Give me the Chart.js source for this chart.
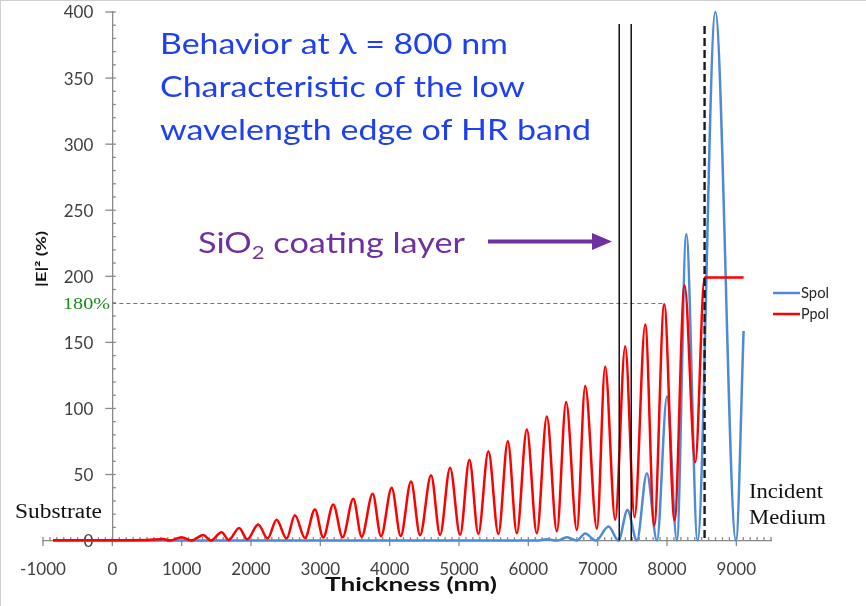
<!DOCTYPE html>
<html>
<head>
<meta charset="utf-8">
<script src="https://cdn.jsdelivr.net/npm/chart.js@4.4.1/dist/chart.umd.min.js"></script>
<style>
  html, body { margin: 0; padding: 0; background: #fff; }
  #wrap { width: 866px; height: 606px; position: relative; }
</style>
</head>
<body>
<div id="wrap"><canvas id="chart"></canvas></div>
<script>
// axis ticks
const thicknessTicks = [-1000, 0, 1000, 2000, 3000, 4000, 5000, 6000, 7000, 8000, 9000];
const fieldTicks = [0, 50, 100, 150, 200, 250, 300, 350, 400];

// Spol (blue): thickness (nm) -> |E|^2 (%)
const spolX = [-856, 6120, 6267, 6420, 6556, 6700, 6820, 6974, 7157, 7300, 7430, 7566,
  7710, 7855, 8000, 8143, 8278, 8441, 8697, 8995, 9105];
const spolY = [0, 0, 1, 0, 2.5, 0, 5.3, 0, 10.6, 0, 23.2, 0,
  51, 0, 109, 0, 232, 0, 400, 0, 158.6];

// Ppol (red)
const ppolX = [-856, 0, 500, 730, 830, 1000, 1140,
  1310, 1421, 1575, 1680, 1829, 1945, 2104, 2239, 2369, 2513,
  2633, 2778, 2922, 3042, 3186, 3322, 3475, 3596, 3755, 3875,
  4029, 4159, 4308, 4438, 4597, 4727, 4871, 5016, 5150, 5279,
  5424, 5568, 5704, 5834, 5978, 6122, 6267, 6411, 6545, 6700,
  6820, 6989, 7108, 7253, 7397, 7532, 7686, 7816, 7960, 8109,
  8253, 8408, 8542, 9105];
const ppolY = [0.3, 0.3, 0.5, 1.3, 0, 2.5, 0,
  4.3, 0, 6.3, 0.5, 9.6, 1, 12.1, 1.5, 15.7, 1.5,
  19.2, 2, 23.5, 2.3, 27.3, 2.5, 31.6, 3, 35.4, 3.3,
  39.9, 3.5, 44.7, 4, 49.5, 4.3, 55.1, 4.3, 61.1, 5,
  67.7, 5, 75.2, 5.5, 84.1, 5.5, 93.9, 7, 104.8, 8,
  116.9, 9, 131.8, 15.7, 147, 17.7, 163.6, 11.4, 178.8, 15.2,
  193.2, 59.3, 199, 199];

// layer boundaries and the 180% level
const sio2Bounds = [7311, 7484];
const mediumBound = 8542;
const level180 = 180;
const level180End = 7960;

const AXIS = '#8a8a8a';
const TICK_TEXT = '#404040';
const TICK_FONT = '17px Lato';

const toPoints = (xs, ys) => xs.map((x, i) => ({ x, y: ys[i] }));

const line = (ctx, x1, y1, x2, y2) => {
  ctx.beginPath();
  ctx.moveTo(x1, y1);
  ctx.lineTo(x2, y2);
  ctx.stroke();
};

// draws text segments stretched to a given width (left edge x, baseline y)
const fitText = (ctx, segs, x, y, color, width) => {
  ctx.save();
  ctx.fillStyle = color;
  ctx.textBaseline = 'alphabetic';
  ctx.textAlign = 'left';
  let total = 0;
  segs.forEach((s) => { ctx.font = s.font; total += ctx.measureText(s.text).width; });
  ctx.translate(x, y);
  ctx.scale(width / total, 1);
  let cx = 0;
  segs.forEach((s) => {
    ctx.font = s.font;
    ctx.fillText(s.text, cx, s.dy || 0);
    cx += ctx.measureText(s.text).width;
  });
  ctx.restore();
};

const decorations = {
  id: 'decorations',
  beforeDatasetsDraw(chart) {
    const { ctx, scales: { x, y } } = chart;
    const x0 = x.getPixelForValue(0);
    const y0 = y.getPixelForValue(0);
    ctx.save();
    ctx.strokeStyle = AXIS;
    ctx.lineWidth = 1.3;
    // x ticks: majors cross the axis, minors point up
    for (let v = -1000; v <= 9500; v += 100) {
      const px = x.getPixelForValue(v);
      if (v % 1000 === 0) line(ctx, px, y0 - 3.5, px, y0 + 5.5);
      else line(ctx, px, y0 - 3.5, px, y0);
    }
    // y ticks: majors cross, minors point right
    for (let v = 0; v <= 400; v += 10) {
      const py = y.getPixelForValue(v);
      if (v % 50 === 0) line(ctx, x0 - 7, py, x0 + 3.5, py);
      else line(ctx, x0, py, x0 + 3.5, py);
    }
    // y tick labels, to the left of the axis at x = 0
    ctx.fillStyle = TICK_TEXT;
    ctx.font = TICK_FONT;
    ctx.textAlign = 'right';
    ctx.textBaseline = 'middle';
    fieldTicks.forEach((v) => ctx.fillText(String(v), x0 - 19, y.getPixelForValue(v) + 1));
    ctx.restore();
  },
  afterDatasetsDraw(chart) {
    const { ctx, scales: { x, y } } = chart;
    ctx.save();

    // 180% dashed level
    ctx.strokeStyle = '#239a9a';
    ctx.lineWidth = 1.1;
    ctx.setLineDash([4, 3]);
    const py180 = Math.round(y.getPixelForValue(level180)) + 0.5;
    line(ctx, x.getPixelForValue(0), py180, x.getPixelForValue(level180End), py180);

    // SiO2 layer boundaries
    ctx.setLineDash([]);
    ctx.strokeStyle = '#111';
    ctx.lineWidth = 1.5;
    sio2Bounds.forEach((v) => {
      const px = x.getPixelForValue(v);
      line(ctx, px, 24, px, y.getPixelForValue(0));
    });
    // incident medium boundary
    ctx.strokeStyle = '#1a1a1a';
    ctx.lineWidth = 2.4;
    ctx.setLineDash([8, 4]);
    const pm = x.getPixelForValue(mediumBound);
    line(ctx, pm, 26, pm, y.getPixelForValue(0));
    ctx.setLineDash([]);

    // purple arrow
    ctx.strokeStyle = '#7030a0';
    ctx.fillStyle = '#7030a0';
    ctx.lineWidth = 4;
    line(ctx, 488, 241.5, 596, 241.5);
    ctx.beginPath();
    ctx.moveTo(612, 241.5);
    ctx.lineTo(592, 233);
    ctx.lineTo(592, 250);
    ctx.closePath();
    ctx.fill();
    ctx.restore();
  },
  afterDraw(chart) {
    const { ctx } = chart;
    const blue = '#1f3ff2';
    fitText(ctx, [{ text: 'Behavior at \u03bb = 800 nm', font: '28px Lato' }], 160, 54, blue, 348);
    fitText(ctx, [{ text: 'Characteristic of the low', font: '28px Lato' }], 160, 97, blue, 365);
    fitText(ctx, [{ text: 'wavelength edge of HR band', font: '28px Lato' }], 160, 140, blue, 431);
    fitText(ctx, [
      { text: 'SiO', font: '28px Lato' },
      { text: '2', font: '18px Lato', dy: 6 },
      { text: ' coating layer', font: '28px Lato' },
    ], 198, 253, '#7030a0', 267);

    fitText(ctx, [{ text: '180%', font: '17px "Liberation Serif"' }], 63, 309, '#1a8a1a', 47);
    fitText(ctx, [{ text: 'Substrate', font: '20px "Liberation Serif"' }], 15, 518, '#111', 87);
    fitText(ctx, [{ text: 'Incident', font: '20px "Liberation Serif"' }], 749, 498, '#111', 74);
    fitText(ctx, [{ text: 'Medium', font: '20px "Liberation Serif"' }], 749, 524, '#111', 77);

    fitText(ctx, [{ text: 'Thickness (nm)', font: 'bold 18px Lato' }], 325, 591, '#111', 172);

    // y title, rotated
    ctx.save();
    ctx.translate(46, 287);
    ctx.rotate(-Math.PI / 2);
    fitText(ctx, [{ text: '|E|\u00b2 (%)', font: 'bold 14px Lato' }], 0, 0, '#111', 56);
    ctx.restore();

    // legend
    const rows = [293, 314];
    chart.data.datasets.forEach((ds, i) => {
      ctx.save();
      ctx.strokeStyle = ds.borderColor;
      ctx.lineWidth = 2.5;
      line(ctx, 773, rows[i], 800, rows[i]);
      ctx.restore();
      fitText(ctx, [{ text: ds.label, font: '15px Lato' }], 801, rows[i] + 5, '#262626', 28);
    });

    // thin frame of the original picture
    ctx.save();
    ctx.strokeStyle = '#cfcfcf';
    ctx.lineWidth = 1;
    line(ctx, 0.5, 0, 0.5, 606);
    line(ctx, 0, 0.5, 866, 0.5);
    ctx.restore();
  },
};

new Chart(document.getElementById('chart'), {
  type: 'line',
  data: {
    datasets: [
      {
        label: 'Spol',
        data: toPoints(spolX, spolY),
        borderColor: '#4f8ad6',
        borderWidth: 2.5,
        order: 1,
      },
      {
        label: 'Ppol',
        data: toPoints(ppolX, ppolY),
        borderColor: '#ff0000',
        borderWidth: 2.5,
        order: 0,
      },
    ],
  },
  options: {
    responsive: true,
    maintainAspectRatio: false,
    animation: false,
    devicePixelRatio: 1,
    layout: { padding: { left: 43, right: 95, top: 12, bottom: 7 } },
    elements: {
      point: { radius: 0 },
      line: { cubicInterpolationMode: 'monotone', fill: false },
    },
    datasets: { line: { clip: false } },
    scales: {
      x: {
        type: 'linear',
        min: -1000,
        max: 9500,
        afterBuildTicks: (s) => { s.ticks = thicknessTicks.map((v) => ({ value: v })); },
        grid: { display: false, drawTicks: false },
        border: { color: AXIS, width: 1.3 },
        ticks: { padding: 19, color: TICK_TEXT, font: { family: 'Lato', size: 17 }, callback: (v) => String(v) },
      },
      y: {
        type: 'linear',
        position: { x: 0 },
        min: 0,
        max: 400,
        afterBuildTicks: (s) => { s.ticks = fieldTicks.map((v) => ({ value: v })); },
        grid: { display: false, drawTicks: false },
        border: { color: AXIS, width: 1.3 },
        ticks: { display: false, padding: 0 },
      },
    },
    plugins: {
      legend: { display: false },
      tooltip: { enabled: false },
    },
  },
  plugins: [decorations],
});
</script>
</body>
</html>
